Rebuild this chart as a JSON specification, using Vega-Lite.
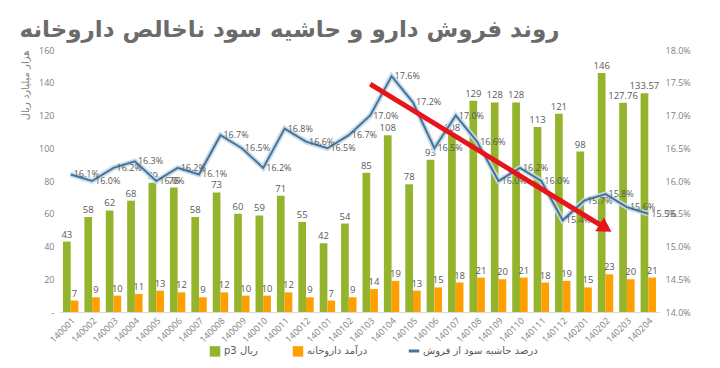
{
  "$schema": "https://vega.github.io/schema/vega-lite/v6.json",
  "width": 599,
  "height": 262,
  "autosize": {"type": "none"},
  "padding": {"left": 60, "top": 50, "right": 61, "bottom": 56},
  "background": "white",
  "title": {
    "text": "روند فروش دارو و حاشیه سود ناخالص داروخانه",
    "font": "DejaVu Sans",
    "fontSize": 23,
    "fontWeight": "bold",
    "color": "#6b6b6b",
    "anchor": "middle",
    "dx": -70,
    "offset": 4
  },
  "config": {
    "view": {"stroke": null},
    "font": "Open Sans",
    "axis": {"labelColor": "#808080", "labelFont": "Open Sans", "grid": false, "ticks": false, "domain": false}
  },
  "datasets": {
    "main": [
      {"period": "140001", "sales": 43, "revenue": 7, "margin": 0.161},
      {"period": "140002", "sales": 58, "revenue": 9, "margin": 0.160},
      {"period": "140003", "sales": 62, "revenue": 10, "margin": 0.162},
      {"period": "140004", "sales": 68, "revenue": 11, "margin": 0.163},
      {"period": "140005", "sales": 79, "revenue": 13, "margin": 0.160},
      {"period": "140006", "sales": 76, "revenue": 12, "margin": 0.162},
      {"period": "140007", "sales": 58, "revenue": 9, "margin": 0.161},
      {"period": "140008", "sales": 73, "revenue": 12, "margin": 0.167},
      {"period": "140009", "sales": 60, "revenue": 10, "margin": 0.165},
      {"period": "140010", "sales": 59, "revenue": 10, "margin": 0.162},
      {"period": "140011", "sales": 71, "revenue": 12, "margin": 0.168},
      {"period": "140012", "sales": 55, "revenue": 9, "margin": 0.166},
      {"period": "140101", "sales": 42, "revenue": 7, "margin": 0.165},
      {"period": "140102", "sales": 54, "revenue": 9, "margin": 0.167},
      {"period": "140103", "sales": 85, "revenue": 14, "margin": 0.170},
      {"period": "140104", "sales": 108, "revenue": 19, "margin": 0.176},
      {"period": "140105", "sales": 78, "revenue": 13, "margin": 0.172},
      {"period": "140106", "sales": 93, "revenue": 15, "margin": 0.165},
      {"period": "140107", "sales": 108, "revenue": 18, "margin": 0.170},
      {"period": "140108", "sales": 129, "revenue": 21, "margin": 0.166},
      {"period": "140109", "sales": 128, "revenue": 20, "margin": 0.160},
      {"period": "140110", "sales": 128, "revenue": 21, "margin": 0.162},
      {"period": "140111", "sales": 113, "revenue": 18, "margin": 0.160},
      {"period": "140112", "sales": 121, "revenue": 19, "margin": 0.154},
      {"period": "140201", "sales": 98, "revenue": 15, "margin": 0.157},
      {"period": "140202", "sales": 146, "revenue": 23, "margin": 0.158},
      {"period": "140203", "sales": 127.76, "revenue": 20, "margin": 0.156},
      {"period": "140204", "sales": 133.57, "revenue": 21, "margin": 0.155}
    ],
    "arrow": [
      {"period": "140103", "margin": 0.1748, "period2": "140202", "margin2": 0.1528}
    ]
  },
  "encoding": {
    "x": {
      "field": "period", "type": "nominal", "sort": null,
      "scale": {"paddingInner": 0.28, "paddingOuter": 0.14},
      "axis": {"title": null, "labelAngle": -45, "labelFontSize": 9, "labelPadding": 4, "domain": true, "domainColor": "#d9d9d9"}
    }
  },
  "layer": [
    {
      "data": {"name": "main"},
      "transform": [{"fold": ["sales", "revenue"], "as": ["key", "value"]}],
      "encoding": {
        "y": {
          "field": "value", "type": "quantitative",
          "scale": {"domain": [0, 160]},
          "axis": {
            "title": "هزار میلیارد ریال", "titleFont": "DejaVu Sans", "titleFontSize": 10, "titleFontWeight": "normal",
            "titleColor": "#808080", "titleAnchor": "end", "titlePadding": 8,
            "values": [0, 20, 40, 60, 80, 100, 120, 140, 160], "labelFontSize": 9, "labelPadding": 6,
            "labelExpr": "datum.value === 0 ? '-' : datum.label"
          }
        },
        "xOffset": {"field": "key", "type": "nominal", "scale": {"domain": ["sales", "revenue"], "paddingInner": 0}}
      },
      "layer": [
        {
          "mark": {"type": "bar"},
          "encoding": {
            "color": {
              "field": "key", "type": "nominal",
              "scale": {"domain": ["sales", "revenue", "margin"], "range": ["#93b42c", "#ffa000", "#44749c"]},
              "legend": {
                "orient": "none", "legendX": 150, "legendY": 296, "direction": "horizontal", "title": null,
                "labelFont": "DejaVu Sans", "labelFontSize": 10, "labelColor": "#595959", "symbolSize": 110,
                "columnPadding": 34,
                "labelExpr": "datum.value === 'sales' ? 'p3 ریال' : datum.value === 'revenue' ? 'درآمد داروخانه' : 'درصد حاشیه سود از فروش'",
                "encode": {"symbols": {"update": {
                  "shape": {"signal": "datum.value === 'margin' ? 'stroke' : 'square'"},
                  "stroke": {"signal": "scale('color', datum.value)"},
                  "strokeWidth": {"signal": "datum.value === 'margin' ? 3 : 0"}
                }}}
              }
            }
          }
        },
        {
          "mark": {"type": "text", "baseline": "bottom", "dy": -2, "fontSize": 9.5, "color": "#595959"},
          "encoding": {"text": {"field": "value", "type": "quantitative"}}
        }
      ]
    },
    {
      "encoding": {
        "y": {
          "field": "margin", "type": "quantitative",
          "scale": {"domain": [0.14, 0.18], "zero": false},
          "axis": {"orient": "right", "title": null, "format": ".1%", "values": [0.14, 0.145, 0.15, 0.155, 0.16, 0.165, 0.17, 0.175, 0.18], "labelFontSize": 9, "labelPadding": 6}
        }
      },
      "layer": [
        {
          "data": {"name": "main"},
          "mark": {"type": "line", "stroke": "#c7d9e8", "strokeWidth": 5.5, "opacity": 0.9}
        },
        {
          "data": {"name": "main"},
          "mark": {"type": "line", "strokeWidth": 2},
          "encoding": {"color": {"datum": "margin"}}
        },
        {
          "data": {"name": "main"},
          "mark": {"type": "text", "align": "left", "baseline": "middle", "dx": 3, "fontSize": 9, "color": "#595959"},
          "encoding": {"text": {"field": "margin", "type": "quantitative", "format": ".1%"}}
        },
        {
          "data": {"name": "arrow"},
          "mark": {"type": "rule", "color": "#e8141b", "strokeWidth": 5},
          "encoding": {"x2": {"field": "period2"}, "y2": {"field": "margin2"}}
        },
        {
          "data": {"name": "arrow"},
          "mark": {"type": "point", "shape": "triangle-right", "filled": true, "color": "#e8141b", "size": 260, "angle": 32, "opacity": 1},
          "encoding": {"x": {"field": "period2", "type": "nominal", "sort": null}, "y": {"field": "margin2", "type": "quantitative"}}
        }
      ]
    }
  ],
  "resolve": {"scale": {"y": "independent"}}
}
